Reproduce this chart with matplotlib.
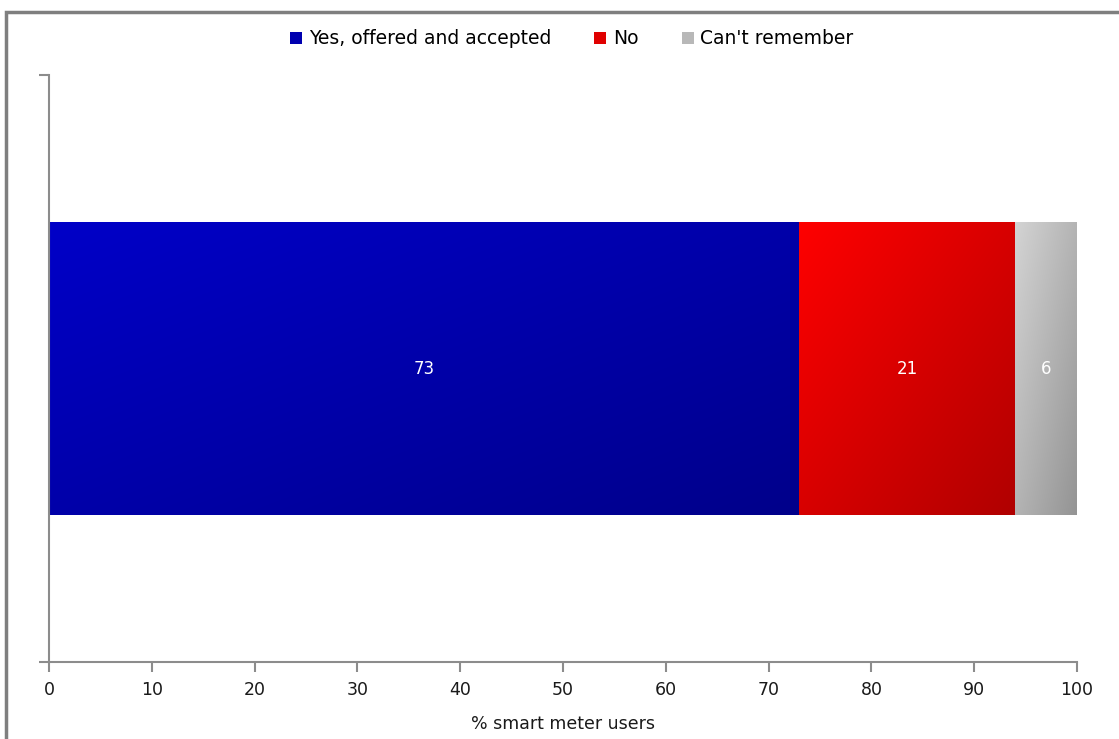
from matplotlib import pyplot as plt
from matplotlib import colors
from matplotlib.patches import Rectangle, Patch
import numpy as np

## Data
categories = ["Yes, offered and accepted", "No", "Can't remember"]
values = [73, 21, 6]
grad_start = ["#0000c8", "#ff0000", "#d4d4d4"]  # top-left colour of each segment
grad_end = ["#00008a", "#b00000", "#949494"]  # bottom-right colour
legend_colors = ["#0000b0", "#e00000", "#b8b8b8"]

xticks = list(range(0, 101, 10))

## Set up plot ------------------------------------------------------------
fsize = 12
plt.rc("font", family="DejaVu Sans", size=fsize)

fig = plt.figure(figsize=(11.19, 7.39), dpi=100)
ax = fig.add_axes([0.0438, 0.1042, 0.9187, 0.7943])

# outer frame (only top and left edges fall inside the image)
frame = Rectangle(
    (6 / 1119, -0.1), 1.2, 0.1 + (1 - 12 / 739),
    transform=fig.transFigure, fill=False, edgecolor="#7f7f7f", linewidth=2.5,
)
fig.patches.append(frame)


def gradient(c0, c1, n=200):
    a = np.array(colors.to_rgb(c0))
    b = np.array(colors.to_rgb(c1))
    xx, yy = np.meshgrid(np.linspace(0, 1, n), np.linspace(0, 1, n))
    t = (xx + yy) / 2
    return a + (b - a) * t[..., None]


left = 0
for name, v, c0, c1 in zip(categories, values, grad_start, grad_end):
    bar = ax.barh(0, v, left=left, height=0.5, color="none", edgecolor="none")[0]
    x0, y0 = bar.get_x(), bar.get_y()
    w, h = bar.get_width(), bar.get_height()
    # row 0 of the image sits at the top of the bar
    im = ax.imshow(
        gradient(c0, c1), extent=[x0, x0 + w, y0, y0 + h],
        aspect="auto", interpolation="bilinear", zorder=2,
    )
    im.set_clip_path(bar)
    ax.text(x0 + w / 2, 0, str(v), color="white", ha="center", va="center",
            fontsize=fsize, zorder=3)
    left += v

ax.set_xlim(0, 100)
ax.set_ylim(-0.5, 0.5)
ax.set_xticks(xticks)
ax.set_yticks([-0.5, 0.5])
ax.set_yticklabels([])
ax.tick_params(axis="both", direction="out", length=7, width=1.5, color="#8c8c8c")
ax.tick_params(axis="x", labelsize=12.5, colors="#8c8c8c", labelcolor="#1a1a1a", pad=7)
for s in ["top", "right"]:
    ax.spines[s].set_visible(False)
for s in ["left", "bottom"]:
    ax.spines[s].set_color("#8c8c8c")
    ax.spines[s].set_linewidth(1.5)
ax.set_xlabel("% smart meter users", fontsize=12.5, color="#1a1a1a", labelpad=11)

handles = [Patch(facecolor=c, edgecolor="none") for c in legend_colors]
fig.legend(
    handles, categories, loc="center", bbox_to_anchor=(0.511, 1 - 39 / 739),
    ncol=3, frameon=False, handlelength=0.65, handleheight=0.65,
    handletextpad=0.35, columnspacing=2.3, fontsize=13.5,
)

fig.savefig("out.png", dpi=100)
